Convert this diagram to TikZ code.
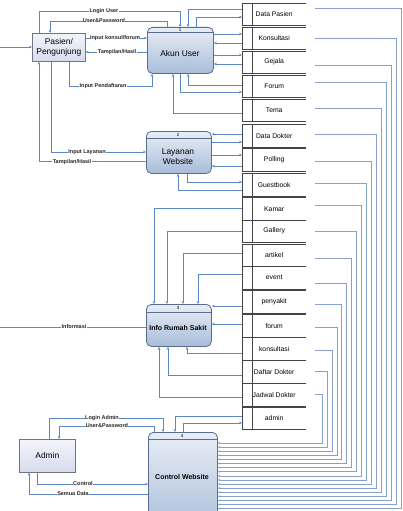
\documentclass[tikz,border=0pt]{standalone}
\usepackage{fontspec}
\setmainfont{Liberation Sans}
\usetikzlibrary{arrows.meta,calc}
\definecolor{flowc}{HTML}{5B87C5}
\definecolor{longc}{HTML}{86A2CC}
\definecolor{storec}{HTML}{444444}
\definecolor{proct}{HTML}{E8EEF6}
\definecolor{procb}{HTML}{A8BCD9}
\definecolor{procd}{HTML}{5A6D8C}
\definecolor{entt}{HTML}{F3F4FA}
\definecolor{entb}{HTML}{D8DBEE}
\definecolor{entd}{HTML}{74747F}
\begin{document}
\begin{tikzpicture}[x=1pt,y=-1pt,
  flow/.style={color=flowc,line width=0.7pt,-{Stealth[length=3pt,width=2.6pt]}},
  longflow/.style={color=longc,line width=0.55pt,-{Stealth[length=2.6pt,width=2.2pt]}},
  flowlabel/.style={fill=white,inner sep=0.4pt,text=black!85,font=\bfseries\fontsize{5.5}{6}\selectfont},
  proc/.style={rounded corners=5pt,draw=procd,line width=0.8pt,top color=proct,bottom color=procb,anchor=north west,inner sep=0pt},
  entity/.style={draw=entd,line width=0.7pt,top color=entt,bottom color=entb,anchor=north west,inner sep=0pt,align=center,font=\fontsize{8.4}{9.8}\selectfont},
  proctext/.style={align=center,font=\fontsize{8.4}{9.8}\selectfont},
  procbold/.style={font=\bfseries\fontsize{7}{8}\selectfont},
  procnum/.style={font=\fontsize{4.5}{5}\selectfont,inner sep=0pt},
  storebox/.style={anchor=north west,minimum width=64pt,inner sep=0pt,font=\fontsize{6.8}{8}\selectfont},
  storeline/.style={draw=storec,line width=0.75pt},
  headline/.style={draw=procd,line width=0.8pt}
]
\clip (0,0) rectangle (402,511);

% external entities
\node[entity,minimum width=53pt,minimum height=28pt] (P) at (32,33) {Pasien/\\Pengunjung};
\node[entity,minimum width=56pt,minimum height=33pt] (D) at (19,439) {Admin};

% processes
\node[proc,minimum width=66pt,minimum height=46pt] (A) at (147,27) {};
\node[proc,minimum width=65pt,minimum height=42pt] (L) at (146,131) {};
\node[proc,minimum width=65pt,minimum height=42pt] (I) at (146,304) {};
\node[proc,minimum width=69pt,minimum height=100pt] (C) at (148,432) {};
\draw[headline] (A.north west) ++(0,5.5) -- ++(66,0);
\draw[headline] (L.north west) ++(0,7) -- ++(65,0);
\draw[headline] (I.north west) ++(0,8) -- ++(65,0);
\draw[headline] (C.north west) ++(0,7) -- ++(69,0);
\node[procnum] (An) at (180,30) {1};
\node[procnum] (Ln) at (178,134.5) {2};
\node[procnum] (In) at (178,308) {3};
\node[procnum] (Cn) at (182,435.5) {4};
\node[proctext] (At) at (180,53) {Akun User};
\node[proctext] (Lt) at (178,157) {Layanan\\Website};
\node[procbold] (It) at (178,328) {Info Rumah Sakit};
\node[procbold] (Ct) at (182,477) {Control Website};

% data stores
\foreach \i/\t/\y/\h in {1/Data Pasien/3/22,2/Konsultasi/27/22,3/Gejala/51/22,4/Forum/75/22,5/Tema/99/22,
  6/Data Dokter/124/23,7/Polling/148/23,8/Guestbook/173/23,9/Kamar/197/23,10/Gallery/220/22,
  11/artikel/244/22,12/event/266/23,13/penyakit/290/23,14/forum/314/23,15/konsultasi/337/23,
  16/Daftar Dokter/360/23,17/Jadwal Dokter/383/23,18/admin/407/22}{
  \node[storebox,minimum height=\h pt] (s\i) at (242,\y) {\t};
  \draw[storeline] (s\i.north east) -- (s\i.north west) -- (s\i.south west) -- (s\i.south east);
  \draw[storeline] ([xshift=10pt]s\i.north west) -- ([xshift=10pt]s\i.south west);
}

% right-side connectors to Control Website
\foreach \i/\yy in {1/8,2/38,3/65,4/82,5/108,6/134,7/161,8/183,9/205,10/231,11/258,12/283,13/304,14/327,15/350,16/371,17/394}{
  \pgfmathsetmacro{\xx}{401-(\i-1)*4.94}
  \pgfmathsetmacro{\yc}{443+(17-\i)*4.1}
  \coordinate (r\i) at (315,\yy);
  \draw[longflow] (r\i) -| (\xx,\yc) -- (C.east |- 0,\yc);
}

% Pasien / Pengunjung and Akun User
\coordinate (ext) at (0,47);
\draw[flow] (ext) -- (ext -| P.west);
\draw[flow] (P.north -| 39,0) |- (180,11) -- (A.north -| 180,0);
\node[flowlabel] (l1) at (104,11) {Login User};
\draw[flow] (A.north -| 167,0) |- (50,21) -- (P.north -| 50,0);
\node[flowlabel] (l2) at (104,21) {User\&Password};
\draw[flow] (P.east |- 0,38) -- (A.west |- 0,38);
\node[flowlabel] (l3) at (115,38) {Input konsul/forum};
\draw[flow] (A.west |- 0,52) -- (P.east |- 0,52);
\node[flowlabel] (l4) at (117,52) {Tampilan/Hasil};
\draw[flow] (P.south -| 69,0) |- (152,86) -- (A.south -| 152,0);
\node[flowlabel] (l5) at (103,86) {Input Pendaftaran};

% Akun User and stores
\draw[flow] (s1.west |- 0,9) -| (A.north -| 188,0);
\draw[flow] (A.north -| 196,0) |- (s1.west |- 0,17);
\draw[flow] (A.east |- 0,34) -- (s2.west |- 0,34);
\draw[flow] (s2.west |- 0,43) -- (A.east |- 0,43);
\draw[flow] (A.east |- 0,55) -- (s3.west |- 0,55);
\draw[flow] (s3.west |- 0,64) -- (A.east |- 0,64);
\draw[flow] (s4.west |- 0,85) -| (A.south -| 188,0);
\draw[flow] (A.south -| 180,0) |- (s4.west |- 0,92);
\draw[flow] (s5.west |- 0,113) -| (A.south -| 173,0);

% Layanan Website
\draw[flow] (P.south -| 51,0) |- (L.west |- 0,152);
\node[flowlabel] (l6) at (87,152) {Input Layanan};
\draw[flow] (L.west |- 0,161) -| (P.south -| 39,0);
\node[flowlabel] (l7) at (72,162) {Tampilan/Hasil};
\draw[flow] (s6.west |- 0,134) -- (L.east |- 0,134);
\draw[flow] (L.east |- 0,142) -- (s6.west |- 0,142);
\draw[flow] (L.east |- 0,155) -- (s7.west |- 0,155);
\draw[flow] (s7.west |- 0,166) -- (L.east |- 0,166);
\draw[flow] (L.south -| 187,0) |- (s8.west |- 0,182);
\draw[flow] (s8.west |- 0,190) -| (L.south -| 178,0);

% Info Rumah Sakit
\coordinate (inf) at (-3,327);
\draw[flow] (I.west |- 0,327) -- (inf);
\node[flowlabel] (l8) at (74,327) {Informasi};
\draw[flow] (s9.west |- 0,208) -| (I.north -| 154,0);
\draw[flow] (s10.west |- 0,231) -| (I.north -| 167,0);
\draw[flow] (s11.west |- 0,253) -| (I.north -| 183,0);
\draw[flow] (s12.west |- 0,274) -| (I.north -| 198,0);
\draw[flow] (s13.west |- 0,306) -- (I.east |- 0,306);
\draw[flow] (s14.west |- 0,324) -- (I.east |- 0,324);
\draw[flow] (s15.west |- 0,353) -| (I.south -| 187,0);
\draw[flow] (s16.west |- 0,375) -| (I.south -| 168,0);
\draw[flow] (s17.west |- 0,397) -| (I.south -| 159,0);

% Admin and Control Website
\draw[flow] (D.north -| 49,0) |- (163,418) -- (C.north -| 163,0);
\node[flowlabel] (l9) at (102,418) {Login Admin};
\draw[flow] (C.north -| 154,0) |- (59,426) -- (D.north -| 59,0);
\node[flowlabel] (l10) at (107,426) {User\&Password};
\draw[flow] (D.south -| 37,0) |- (C.west |- 0,484);
\node[flowlabel] (l11) at (83,484) {Control};
\draw[flow] (C.west |- 0,494) -| (D.south -| 29,0);
\node[flowlabel] (l12) at (73,494) {Semua Data};
\draw[flow] (s18.west |- 0,416) -| (C.north -| 175,0);
\draw[flow] (C.north -| 183,0) |- (s18.west |- 0,423);
\end{tikzpicture}
\end{document}
